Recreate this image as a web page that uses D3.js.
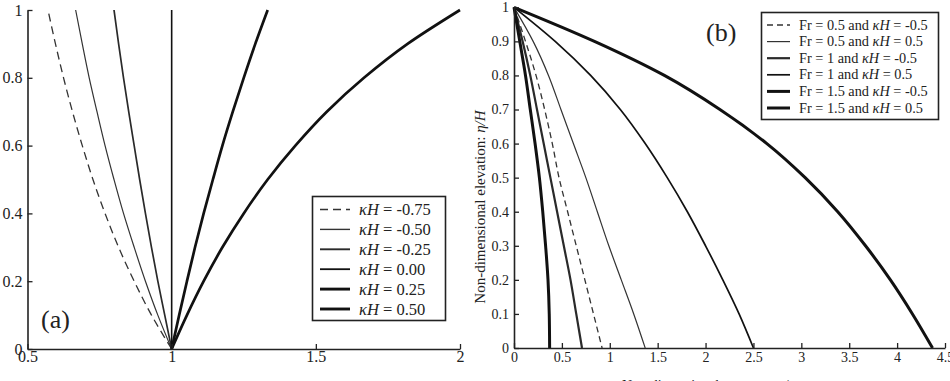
<!DOCTYPE html>
<html>
<head>
<meta charset="utf-8">
<script src="https://cdn.jsdelivr.net/npm/d3@7"></script>
<style>
body { margin: 0; background: #fff; }
svg { display: block; }
text { font-family: "Liberation Serif", "DejaVu Serif", serif; fill: #222; }
</style>
</head>
<body>
<svg width="950" height="381"></svg>
<script>
// ---- panel (a): velocity profiles U/C against depth ----
const depthLevels = [0, 0.1, 0.2, 0.3, 0.4, 0.5, 0.6, 0.7, 0.8, 0.9, 1]
const kappaLabels = ['-0.75', '-0.50', '-0.25', '0.00', '0.25', '0.50']
const ucM075 = [1, 0.930, 0.870, 0.816, 0.769, 0.727, 0.690, 0.656, 0.625, 0.597, 0.571]
const ucM050 = [1, 0.952, 0.909, 0.870, 0.833, 0.800, 0.769, 0.741, 0.714, 0.690, 0.667]
const ucM025 = [1, 0.976, 0.952, 0.930, 0.909, 0.889, 0.870, 0.851, 0.833, 0.816, 0.800]
const ucP000 = [1, 1, 1, 1, 1, 1, 1, 1, 1, 1, 1]
const ucP025 = [1, 1.026, 1.053, 1.081, 1.111, 1.143, 1.176, 1.212, 1.250, 1.290, 1.333]
const ucP050 = [1, 1.053, 1.111, 1.176, 1.250, 1.333, 1.429, 1.538, 1.667, 1.818, 2.000]
const uTicks = [0.5, 1, 1.5, 2]
const depthTicks = [0, 0.2, 0.4, 0.6, 0.8, 1]

// ---- panel (b): pressure profiles against elevation ----
const elevLevels = [1, 0.9, 0.8, 0.7, 0.6, 0.5, 0.4, 0.3, 0.2, 0.1, 0]
const caseLabels = ['Fr = 0.5 and ', 'Fr = 0.5 and ', 'Fr = 1 and ', 'Fr = 1 and ', 'Fr = 1.5 and ', 'Fr = 1.5 and ']
const caseKappa = ['-0.5', '0.5', '-0.5', '0.5', '-0.5', '0.5']
const pFr05Km = [0, 0.12, 0.23, 0.32, 0.40, 0.47, 0.56, 0.65, 0.74, 0.83, 0.92]
const pFr05Kp = [0, 0.20, 0.36, 0.49, 0.62, 0.75, 0.87, 0.99, 1.12, 1.25, 1.37]
const pFr10Km = [0, 0.09, 0.17, 0.24, 0.31, 0.38, 0.45, 0.52, 0.59, 0.65, 0.71]
const pFr10Kp = [0, 0.43, 0.80, 1.11, 1.37, 1.60, 1.81, 2.00, 2.18, 2.35, 2.50]
const pFr15Km = [0, 0.06, 0.12, 0.17, 0.22, 0.265, 0.30, 0.33, 0.355, 0.368, 0.372]
const pFr15Kp = [0, 0.84, 1.57, 2.15, 2.64, 3.04, 3.38, 3.67, 3.93, 4.16, 4.37]
const pTicks = [0, 0.5, 1, 1.5, 2, 2.5, 3, 3.5, 4, 4.5]
const elevTicks = [0, 0.1, 0.2, 0.3, 0.4, 0.5, 0.6, 0.7, 0.8, 0.9, 1]

const svg = d3.select('svg')
const fmt = d3.format('~g')

// styles for each series (dash, width, colour)
const styleA = [
  { w: 1.3, dash: '8,5', c: '#333' },
  { w: 1.2, dash: null, c: '#333' },
  { w: 1.7, dash: null, c: '#2a2a2a' },
  { w: 1.6, dash: null, c: '#111' },
  { w: 2.7, dash: null, c: '#111' },
  { w: 2.7, dash: null, c: '#111' }
]
const styleB = [
  { w: 1.3, dash: '6,4', c: '#333' },
  { w: 1.2, dash: null, c: '#333' },
  { w: 2.2, dash: null, c: '#2a2a2a' },
  { w: 1.7, dash: null, c: '#111' },
  { w: 3, dash: null, c: '#111' },
  { w: 3, dash: null, c: '#111' }
]

function styleAxis(g) {
  g.select('.domain').attr('stroke', '#222').attr('stroke-width', 1.6)
  g.selectAll('.tick line').attr('stroke', '#222').attr('stroke-width', 1.3)
  g.selectAll('text').attr('fill', '#222').style('font-family', '"Liberation Serif", serif')
}

// ================= panel (a) =================
const xA = d3.scaleLinear().domain([0.5, 2]).range([27.5, 460])
const yA = d3.scaleLinear().domain([0, 1]).range([349, 10])

const gA = svg.append('g')

const seriesA = [ucM075, ucM050, ucM025, ucP000, ucP025, ucP050]
const lineA = d3.line()
  .x(d => xA(d[0]))
  .y(d => yA(d[1]))
  .curve(d3.curveMonotoneY)

seriesA.forEach((vals, i) => {
  const pts = vals.map((v, j) => [v, depthLevels[j]])
  gA.append('path')
    .attr('d', lineA(pts))
    .attr('fill', 'none')
    .attr('stroke', styleA[i].c)
    .attr('stroke-width', styleA[i].w)
    .attr('stroke-dasharray', styleA[i].dash)
})

gA.append('g')
  .attr('transform', `translate(0,${yA(0)})`)
  .call(d3.axisBottom(xA).tickValues(uTicks).tickFormat(fmt).tickSize(-5).tickSizeOuter(0).tickPadding(2))
  .call(g => g.selectAll('text').style('font-size', '16px'))
  .call(styleAxis)

gA.append('g')
  .attr('transform', `translate(${xA(0.5)},0)`)
  .call(d3.axisLeft(yA).tickValues(depthTicks).tickFormat(fmt).tickSize(-5).tickSizeOuter(0).tickPadding(5))
  .call(g => g.selectAll('text').style('font-size', '16px'))
  .call(styleAxis)

gA.append('text')
  .attr('x', 244).attr('y', 394)
  .attr('text-anchor', 'middle')
  .style('font-size', '16px').style('font-style', 'italic')
  .text('U/C')

gA.append('text')
  .attr('x', 41).attr('y', 328)
  .style('font-size', '26px')
  .text('(a)')

// legend (a)
const legA = gA.append('g')
legA.append('rect')
  .attr('x', 312.5).attr('y', 196.5).attr('width', 133).attr('height', 124)
  .attr('fill', '#fff').attr('stroke', '#222').attr('stroke-width', 1.6)
kappaLabels.forEach((lab, i) => {
  const yy = 209.5 + i * 19.9
  legA.append('line')
    .attr('x1', 320).attr('x2', 350).attr('y1', yy).attr('y2', yy)
    .attr('stroke', styleA[i].c)
    .attr('stroke-width', styleA[i].w + 0.2)
    .attr('stroke-dasharray', styleA[i].dash)
  const t = legA.append('text')
    .attr('x', 359).attr('y', yy + 5.5)
    .style('font-size', '16.5px')
  t.append('tspan').style('font-style', 'italic').text('κH')
  t.append('tspan').text(' = ' + lab)
})

// ================= panel (b) =================
const xB = d3.scaleLinear().domain([0, 4.5]).range([514, 945])
const yB = d3.scaleLinear().domain([0, 1]).range([348, 7.3])

const gB = svg.append('g')

const seriesB = [pFr05Km, pFr05Kp, pFr10Km, pFr10Kp, pFr15Km, pFr15Kp]
const lineB = d3.line()
  .x(d => xB(d[0]))
  .y(d => yB(d[1]))
  .curve(d3.curveMonotoneY)

seriesB.forEach((vals, i) => {
  const pts = vals.map((v, j) => [v, elevLevels[j]])
  gB.append('path')
    .attr('d', lineB(pts))
    .attr('fill', 'none')
    .attr('stroke', styleB[i].c)
    .attr('stroke-width', styleB[i].w)
    .attr('stroke-dasharray', styleB[i].dash)
})

gB.append('g')
  .attr('transform', `translate(0,${yB(0)})`)
  .call(d3.axisBottom(xB).tickValues(pTicks).tickFormat(fmt).tickSize(-5).tickSizeOuter(0).tickPadding(4))
  .call(g => g.selectAll('text').style('font-size', '14px'))
  .call(styleAxis)

gB.append('g')
  .attr('transform', `translate(${xB(0)},0)`)
  .call(d3.axisLeft(yB).tickValues(elevTicks).tickFormat(fmt).tickSize(-5).tickSizeOuter(0).tickPadding(5))
  .call(g => g.selectAll('text').style('font-size', '14px'))
  .call(styleAxis)

const xlabB = gB.append('text')
  .attr('x', 622).attr('y', 390)
  .style('font-size', '14px')
xlabB.append('tspan').text('Non-dimensional pressure: ')
xlabB.append('tspan').style('font-style', 'italic').text('p/p')
xlabB.append('tspan').attr('dy', 4).style('font-size', '10px').style('font-style', 'italic').text('h')

const ylabB = gB.append('text')
  .attr('transform', 'translate(485,207) rotate(-90)')
  .attr('text-anchor', 'middle')
  .style('font-size', '15px')
ylabB.append('tspan').text('Non-dimensional elevation: ')
ylabB.append('tspan').style('font-style', 'italic').text('η/H')

gB.append('text')
  .attr('x', 706).attr('y', 41)
  .style('font-size', '26px')
  .text('(b)')

// legend (b)
const legB = gB.append('g')
legB.append('rect')
  .attr('x', 761.5).attr('y', 12.5).attr('width', 177).attr('height', 107)
  .attr('fill', '#fff').attr('stroke', '#222').attr('stroke-width', 1.6)
caseLabels.forEach((lab, i) => {
  const yy = 25 + i * 16.6
  legB.append('line')
    .attr('x1', 767).attr('x2', 790).attr('y1', yy).attr('y2', yy)
    .attr('stroke', styleB[i].c)
    .attr('stroke-width', styleB[i].w)
    .attr('stroke-dasharray', styleB[i].dash)
  const t = legB.append('text')
    .attr('x', 799).attr('y', yy + 4.5)
    .style('font-size', '14.3px')
  t.append('tspan').text(lab)
  t.append('tspan').style('font-style', 'italic').text('κH')
  t.append('tspan').text(' = ' + caseKappa[i])
})
</script>
</body>
</html>
